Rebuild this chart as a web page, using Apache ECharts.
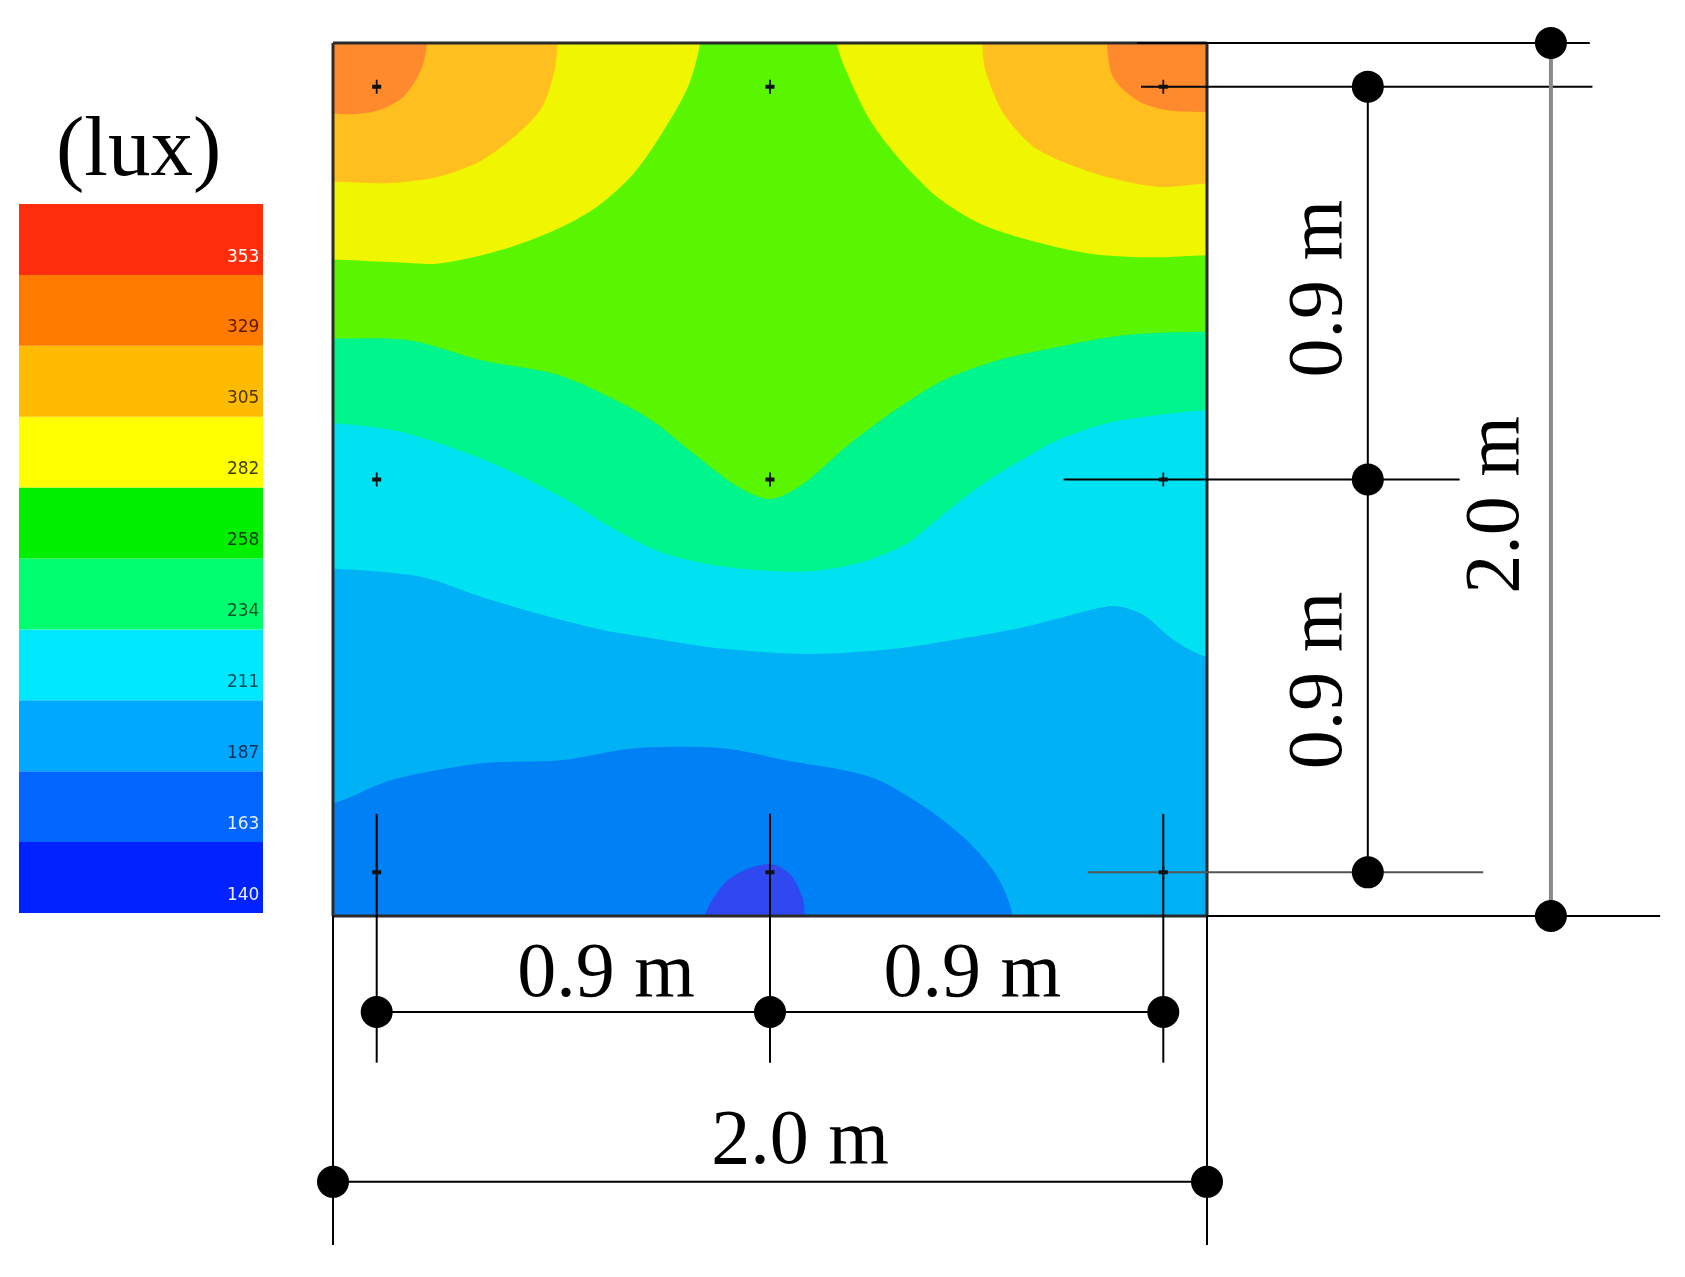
<!DOCTYPE html>
<html>
<head>
<meta charset="utf-8">
<title>Illuminance distribution</title>
<script src="https://cdn.jsdelivr.net/npm/echarts@6/dist/echarts.min.js"></script>
<style>
  html, body { margin: 0; padding: 0; background: #fff; }
  #chart { width: 1685px; height: 1277px; }
</style>
</head>
<body>
<div id="chart"></div>
<script>
// colour scale (lux), bottom to top
const levels = [140, 163, 187, 211, 234, 258, 282, 305, 329, 353];
const legendColors = ['#0022ff', '#0066ff', '#00a8ff', '#00e8ff', '#00ff6e', '#00f000', '#ffff00', '#ffbb00', '#ff7b00', '#ff2d0a'];
const legendLabelColors = ['#e8ecff', '#e8f0ff', '#0a2f5a', '#00505c', '#00532c', '#003c00', '#404000', '#4a3300', '#5a1800', '#ffffff'];
// contour fill per band (keyed by lower bound)
const bandColors = { 140: '#3048f0', 163: '#0080f5', 187: '#00b2f5', 211: '#00e2f2', 234: '#00f58c', 258: '#5af500', 282: '#f0f500', 305: '#ffbf1f', 329: '#ff8a2e' };

// contour boundaries in metres (x from left wall, y from bottom wall)
const edge211 = [[0, 0.796], [0.201, 0.777], [0.340, 0.731], [0.479, 0.690], [0.618, 0.655], [0.757, 0.632], [0.896, 0.612], [1.090, 0.600], [1.285, 0.612], [1.451, 0.638], [1.590, 0.664], [1.729, 0.700], [1.790, 0.710], [1.854, 0.690], [1.924, 0.632], [2.0, 0.594]];
const edge234 = [[0, 1.129], [0.132, 1.114], [0.243, 1.083], [0.382, 1.030], [0.521, 0.961], [0.646, 0.885], [0.757, 0.831], [0.896, 0.800], [1.076, 0.789], [1.201, 0.808], [1.313, 0.853], [1.382, 0.908], [1.479, 0.984], [1.563, 1.037], [1.660, 1.091], [1.771, 1.129], [1.868, 1.145], [2.0, 1.159]];
const edge258 = [[0, 1.323], [0.174, 1.319], [0.340, 1.273], [0.507, 1.242], [0.618, 1.196], [0.729, 1.136], [0.826, 1.059], [0.924, 0.985], [1.000, 0.955], [1.076, 0.990], [1.174, 1.075], [1.285, 1.158], [1.396, 1.227], [1.521, 1.273], [1.660, 1.304], [1.813, 1.331], [2.0, 1.339]];
const edge282L = [[0.840, 2.0], [0.812, 1.899], [0.757, 1.800], [0.688, 1.701], [0.604, 1.625], [0.507, 1.571], [0.382, 1.525], [0.243, 1.495], [0.132, 1.498], [0, 1.504]];
const edge282R = [[1.153, 2.0], [1.174, 1.937], [1.229, 1.823], [1.299, 1.731], [1.382, 1.648], [1.479, 1.587], [1.590, 1.549], [1.729, 1.518], [1.868, 1.509], [2.0, 1.514]];
const edge305L = [[0.514, 2.0], [0.507, 1.937], [0.479, 1.854], [0.424, 1.793], [0.340, 1.731], [0.243, 1.694], [0.132, 1.679], [0, 1.682]];
const edge305R = [[1.486, 2.0], [1.493, 1.937], [1.535, 1.838], [1.604, 1.762], [1.701, 1.716], [1.799, 1.686], [1.896, 1.670], [2.0, 1.678]];
const edge329L = [[0.215, 2.0], [0.201, 1.937], [0.160, 1.876], [0.104, 1.846], [0.049, 1.837], [0, 1.838]];
const edge329R = [[1.771, 2.0], [1.785, 1.922], [1.840, 1.869], [1.910, 1.846], [2.0, 1.842]];
const edgeBelow187 = [[0, 0.258], [0.132, 0.311], [0.340, 0.350], [0.521, 0.357], [0.688, 0.384], [0.896, 0.384], [1.035, 0.357], [1.229, 0.319], [1.354, 0.250], [1.451, 0.173], [1.521, 0.089], [1.556, 0]];
const edgeBelow163 = [[0.851, 0], [0.896, 0.075], [0.951, 0.109], [1.007, 0.118], [1.049, 0.092], [1.076, 0.037], [1.079, 0]];

// measurement points (m)
const sensorX = [0.1, 1.0, 1.9];
const sensorY = [0.1, 1.0, 1.9];

// dimension drawing (m)
const roomBorder = [[0, 0, 2, 0], [2, 0, 2, 2], [2, 2, 0, 2], [0, 2, 0, 0]];
const dimLines = [
  [0.1, 0.234, 0.1, -0.336], [1.0, 0.234, 1.0, -0.336], [1.9, 0.234, 1.9, -0.336],
  [0, 0, 0, -0.754], [2.0, 0, 2.0, -0.754],
  [0.1, -0.22, 1.9, -0.22], [0, -0.609, 2.0, -0.609],
  [1.84, 2.0, 2.876, 2.0], [1.849, 1.9, 2.882, 1.9], [1.672, 1.0, 2.578, 1.0],
  [2.0, 0, 3.037, 0], [2.368, 1.9, 2.368, 0.1]
];
const dimLinesGrey = [[1.727, 0.1, 2.632, 0.1]];
const dimLinesLight = [[2.787, 0, 2.787, 2.0]];
const dimDots = [[0.1, -0.22], [1.0, -0.22], [1.9, -0.22], [0, -0.609], [2.0, -0.609],
  [2.368, 1.9], [2.368, 1.0], [2.368, 0.1], [2.787, 2.0], [2.787, 0]];
const dimLabels = [
  [0.625, -0.136, '0.9 m', 0], [1.463, -0.136, '0.9 m', 0], [1.069, -0.518, '2.0 m', 0],
  [2.259, 1.437, '0.9 m', 90], [2.259, 0.540, '0.9 m', 90], [2.664, 0.942, '2.0 m', 90]
];

// close a boundary into a fillable region (extended past the walls, clipped by the grid)
function region(kind, edge) {
  const o = 0.08, far = 0.5;
  if (kind === 'full') return [[-far, -far], [2 + far, -far], [2 + far, 2 + far], [-far, 2 + far]];
  const f = edge[0], l = edge[edge.length - 1];
  if (kind === 'above') return [[-o, f[1]], ...edge, [2 + o, l[1]], [2 + far, 2 + far], [-far, 2 + far]];
  if (kind === 'topLeft') return [[f[0], 2 + o], ...edge, [-o, l[1]], [-far, 2 + far]];
  if (kind === 'topRight') return [[f[0], 2 + o], ...edge, [2 + o, l[1]], [2 + far, 2 + far]];
  if (kind === 'bottomLeft') return [[-o, f[1]], ...edge, [l[0], -o], [-far, -far]];
  return [[f[0], -o], ...edge, [l[0], -o]];
}

const layers = [
  ['full', null, 187],
  ['above', edge211, 211],
  ['above', edge234, 234],
  ['above', edge258, 258],
  ['topLeft', edge282L, 282], ['topRight', edge282R, 282],
  ['topLeft', edge305L, 305], ['topRight', edge305R, 305],
  ['topLeft', edge329L, 329], ['topRight', edge329R, 329],
  ['bottomLeft', edgeBelow187, 163],
  ['bottom', edgeBelow163, 140]
].map(([kind, edge, band]) => ({ pts: region(kind, edge), color: bandColors[band] }));

function segSeries(segs, color, width) {
  return {
    type: 'custom',
    xAxisIndex: 0, yAxisIndex: 0,
    clip: false, silent: true, z: 5,
    data: segs,
    encode: { x: [0, 2], y: [1, 3] },
    renderItem: (params, api) => {
      const a = api.coord([api.value(0), api.value(1)]);
      const b = api.coord([api.value(2), api.value(3)]);
      return { type: 'line', shape: { x1: a[0], y1: a[1], x2: b[0], y2: b[1] }, style: { stroke: color, lineWidth: width } };
    }
  };
}

const sensors = [];
sensorY.forEach(y => sensorX.forEach(x => sensors.push([x, y])));

const chart = echarts.init(document.getElementById('chart'), null, { renderer: 'canvas' });

const option = {
  backgroundColor: '#ffffff',
  animation: false,
  title: {
    text: '(lux)', left: 56, top: 110, padding: 0,
    textStyle: { fontFamily: 'Liberation Serif', fontSize: 85, fontWeight: 'normal', color: '#000' }
  },
  grid: [
    { left: 333, top: 43, width: 874, height: 873 },
    { left: 19, top: 204, width: 244, height: 709 }
  ],
  xAxis: [
    { type: 'value', min: 0, max: 2, show: false },
    { type: 'value', min: 0, max: 1, show: false, gridIndex: 1 }
  ],
  yAxis: [
    { type: 'value', min: 0, max: 2, show: false },
    { type: 'category', data: levels.map(String), show: false, gridIndex: 1 }
  ],
  series: [
    {
      type: 'custom',
      xAxisIndex: 0, yAxisIndex: 0,
      clip: true, silent: true, z: 1,
      data: layers.map((_, i) => [i]),
      renderItem: (params, api) => {
        const layer = layers[params.dataIndex];
        return {
          type: 'polygon',
          shape: { points: layer.pts.map(p => api.coord(p)), smooth: 0.3 },
          style: { fill: layer.color }
        };
      }
    },
    segSeries(roomBorder, '#2a2a2a', 3),
    segSeries(dimLines, '#000000', 2),
    segSeries(dimLinesGrey, '#555555', 2),
    segSeries(dimLinesLight, '#8a8a8a', 4),
    {
      type: 'scatter', xAxisIndex: 0, yAxisIndex: 0,
      clip: false, silent: true, z: 6,
      symbol: 'path://M4,0H6V5H10V9H6V14H4V9H0V5H4Z',
      symbolSize: [9, 14],
      itemStyle: { color: '#111', opacity: 1 },
      data: sensors
    },
    {
      type: 'scatter', xAxisIndex: 0, yAxisIndex: 0,
      clip: false, silent: true, z: 7,
      symbol: 'circle', symbolSize: 32,
      itemStyle: { color: '#000', opacity: 1 },
      data: dimDots
    },
    {
      type: 'scatter', xAxisIndex: 0, yAxisIndex: 0,
      clip: false, silent: true, z: 8,
      symbolSize: 0,
      itemStyle: { opacity: 1 },
      data: dimLabels.map(d => ({ value: [d[0], d[1]], name: d[2], label: { rotate: d[3] } })),
      label: {
        show: true, position: 'inside', formatter: '{b}',
        fontFamily: 'Liberation Serif', fontSize: 78, color: '#000'
      }
    },
    {
      type: 'bar', xAxisIndex: 1, yAxisIndex: 1,
      silent: true, barWidth: '100%',
      data: levels.map((v, i) => ({
        value: 1,
        itemStyle: { color: legendColors[i] },
        label: { color: legendLabelColors[i] }
      })),
      label: {
        show: true,
        position: ['98.5%', '75%'],
        align: 'right', verticalAlign: 'middle',
        formatter: p => levels[p.dataIndex],
        fontFamily: 'DejaVu Sans', fontSize: 17
      }
    }
  ]
};

chart.setOption(option);
window.addEventListener('resize', () => chart.resize());
</script>
</body>
</html>
